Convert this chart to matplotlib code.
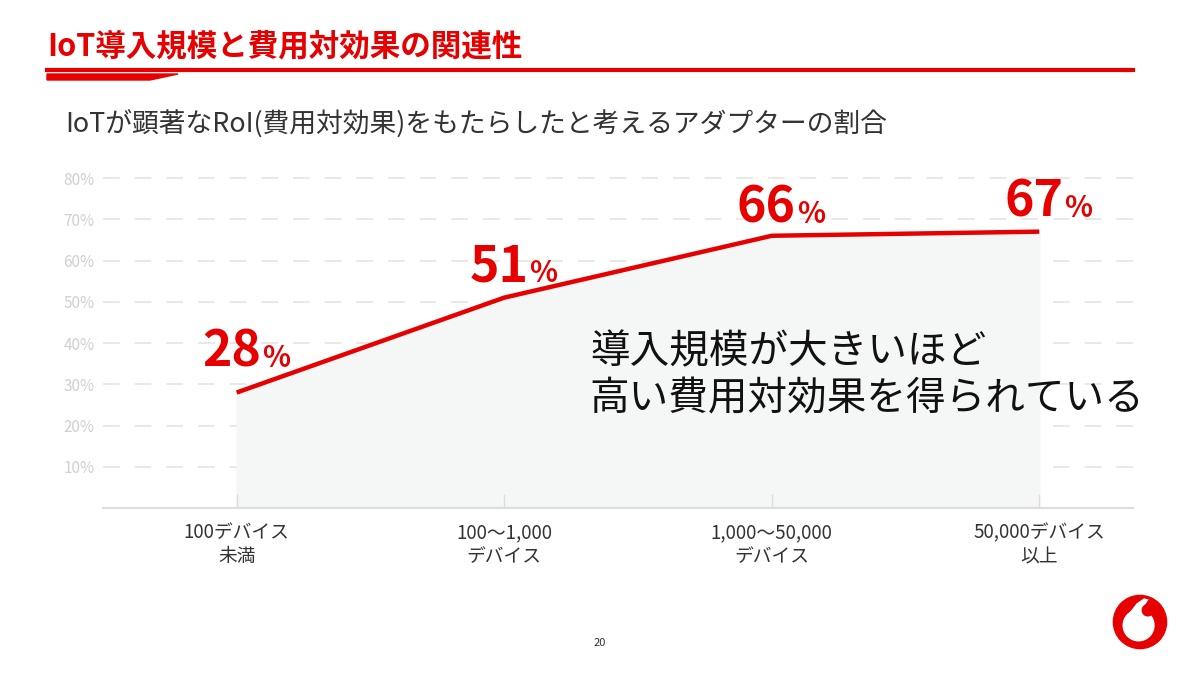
import numpy as np
import matplotlib
matplotlib.use('Agg')
from matplotlib import pyplot as plt
from matplotlib.patches import Circle, Polygon

plt.rcParams['font.family'] = ['Noto Sans CJK JP', 'DejaVu Sans']

# data
categories = ['100デバイス\n未満', '100〜1,000\nデバイス', '1,000〜50,000\nデバイス', '50,000デバイス\n以上']
roi_share = [28, 51, 66, 67]
yticks = [10, 20, 30, 40, 50, 60, 70, 80]

red = '#e60000'
fig = plt.figure(figsize=(12, 6.75), dpi=100)
ax = fig.add_axes([0.0858, 0.2474, 0.8583, 0.5011])

x = np.arange(len(categories))
ax.fill_between(x, roi_share, 0, color='#f5f6f6', zorder=1)
ax.plot(x, roi_share, color=red, lw=3.2, zorder=3, solid_capstyle='butt')

for yv in yticks:
    ax.axhline(yv, color='#e4e4e4', lw=1.2, ls=(0, (10, 9)), zorder=0)

# value labels: big number + small percent sign
lift = [26, 16, 13, 15]
for xi, v, dy in zip(x, roi_share, lift):
    ax.annotate(str(v), (xi, v), xytext=(24 * 0.72, dy * 0.72), textcoords='offset points',
                ha='right', va='baseline', fontsize=36, fontweight='bold', color=red, zorder=4)
    ax.annotate('%', (xi, v), xytext=(25 * 0.72, dy * 0.72), textcoords='offset points',
                ha='left', va='baseline', fontsize=21, fontweight='bold', color=red, zorder=4)

ax.set_xlim(-0.5, 3.35)
ax.set_ylim(0, 82)
ax.set_yticks(yticks)
ax.set_yticklabels([f'{t}%' for t in yticks], color='#cfcfcf', fontsize=11)
ax.set_xticks(x)
ax.set_xticklabels(categories, color='#333333', fontsize=13.5, linespacing=1.2)
ax.tick_params(axis='y', length=0, pad=6)
ax.tick_params(axis='x', direction='in', length=10, color='#dddddd', width=1, pad=10)
for s in ['top', 'right', 'left']:
    ax.spines[s].set_visible(False)
ax.spines['bottom'].set_color('#dddddd')
ax.spines['bottom'].set_linewidth(1.5)

ax.text(1.32, 32, '導入規模が大きいほど\n高い費用対効果を得られている', fontsize=28.5,
        color='#111111', ha='left', va='center', linespacing=1.25, zorder=5)

# header
fig.text(47 / 1200, 1 - 46 / 675, 'IoT導入規模と費用対効果の関連性', fontsize=22,
         fontweight='bold', color=red, ha='left', va='center')
fig.add_artist(plt.Line2D([47 / 1200, 1133 / 1200], [1 - 70 / 675] * 2, color=red, lw=3))
fig.add_artist(Polygon([[47 / 1200, 1 - 74 / 675], [178 / 1200, 1 - 74 / 675],
                        [150 / 1200, 1 - 80 / 675], [47 / 1200, 1 - 80 / 675]],
                       closed=True, color=red, transform=fig.transFigure))
fig.text(65 / 1200, 1 - 125 / 675, 'IoTが顕著なRoI(費用対効果)をもたらしたと考えるアダプターの割合',
         fontsize=19.3, color='#333333', ha='left', va='center')

fig.text(600 / 1200, 1 - 643 / 675, '20', fontsize=8, color='#333333', ha='center', va='center')

# logo
lax = fig.add_axes([1112 / 1200, 1 - 650 / 675, 56 / 1200, 56 / 675])
lax.set_xlim(-1, 1)
lax.set_ylim(-1, 1)
lax.set_aspect('equal')
lax.axis('off')
lax.add_patch(Circle((0, 0), 0.95, color=red))
lax.add_patch(Circle((-0.05, -0.12), 0.55, color='white'))
lax.add_patch(Polygon([[-0.45, 0.2], [-0.1, 0.65], [0.15, 0.82], [0.4, 0.75], [0.35, 0.25]], color='white'))
lax.add_patch(Circle((0.28, 0.42), 0.2, color=red))
lax.add_patch(Polygon([[0.15, 0.52], [0.32, 0.78], [0.55, 0.72], [0.46, 0.35]], color=red))

fig.savefig('out.png', dpi=100)
